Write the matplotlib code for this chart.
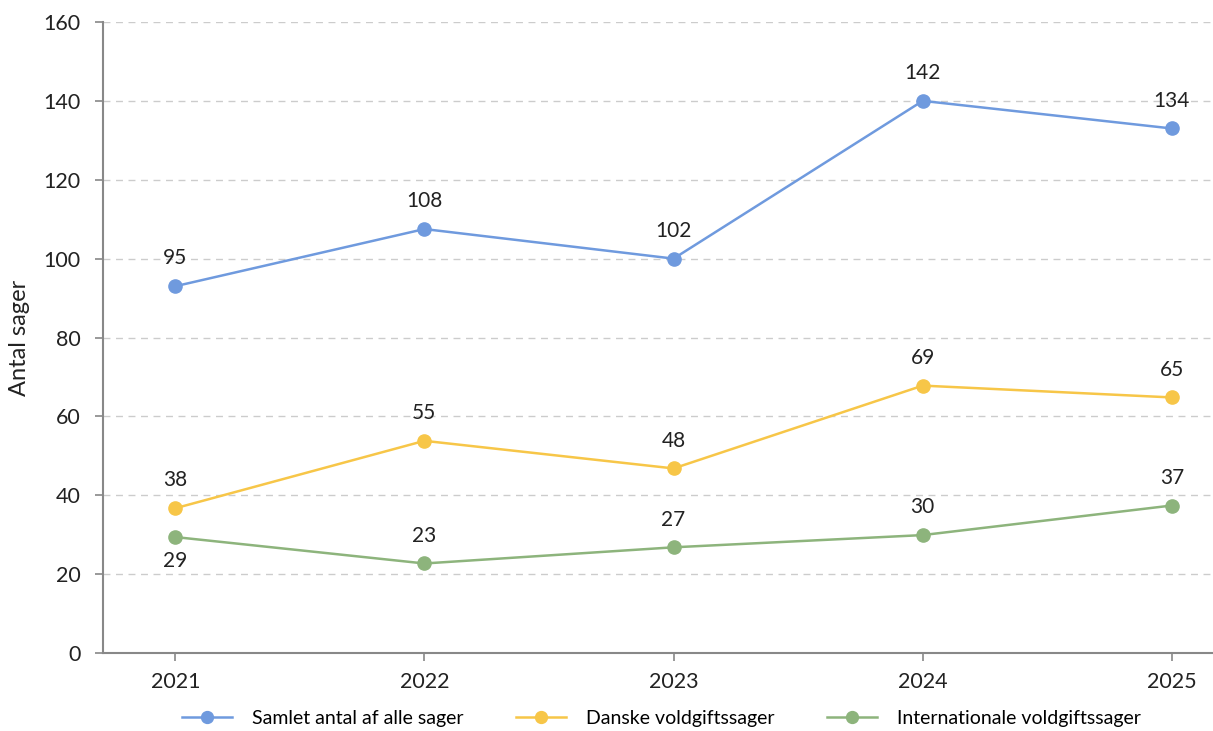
import matplotlib.pyplot as plt
import numpy as np

plt.rcParams['font.family'] = ['Lato', 'DejaVu Sans']

years = ['2021', '2022', '2023', '2024', '2025']
series_names = ['Samlet antal af alle sager', 'Danske voldgiftssager', 'Internationale voldgiftssager']

# plotted positions
samlet = [93, 107.5, 100, 140, 133]
danske = [36.7, 53.8, 46.8, 67.8, 64.8]
internationale = [29.4, 22.7, 26.8, 29.9, 37.4]

# printed data labels
samlet_labels = ['95', '108', '102', '142', '134']
danske_labels = ['38', '55', '48', '69', '65']
internationale_labels = ['29', '23', '27', '30', '37']

colors = ['#6f9ade', '#f7c648', '#8db47c']

fig = plt.figure(figsize=(12.13, 7.31), dpi=100)
ax = fig.add_axes([103 / 1213, 78 / 731, 1 - 103 / 1213, (653 - 22) / 731])

x = np.arange(len(years))
all_vals = [samlet, danske, internationale]
all_labels = [samlet_labels, danske_labels, internationale_labels]

for vals, labs, col, name in zip(all_vals, all_labels, colors, series_names):
    ax.plot(x, vals, color=col, lw=1.8, marker='o', markersize=9.5, label=name, zorder=3)
    for i, (v, t) in enumerate(zip(vals, labs)):
        below = (name == series_names[2] and i == 0)
        ax.annotate(t, (x[i], v), xytext=(0, -17 if below else 20), textcoords='offset points',
                    ha='center', va='center', fontsize=15, color='#222222')

ax.set_xlim(-0.29, 4.165)
ax.set_ylim(0, 160)
ax.set_yticks(range(0, 161, 20))
ax.set_xticks(x)
ax.set_xticklabels(years)
ax.tick_params(axis='both', labelsize=15.5, colors='#888888', labelcolor='#222222', length=6, width=1.2)
ax.tick_params(axis='y', pad=10)
ax.tick_params(axis='x', pad=8)
ax.grid(axis='y', ls=(0, (5, 4)), color='#cccccc', lw=1)
ax.set_axisbelow(True)
for s in ['top', 'right']:
    ax.spines[s].set_visible(False)
for s in ['left', 'bottom']:
    ax.spines[s].set_color('#888888')
    ax.spines[s].set_linewidth(1.5)

ax.set_ylabel('Antal sager', fontsize=17, color='#222222')
ax.yaxis.set_label_coords(-0.066, 0.5)

fig.legend(loc='center', bbox_to_anchor=(0.545, 0.017), ncol=3, frameon=False, fontsize=14,
           handlelength=2.6, handletextpad=1.0, columnspacing=2.7, markerscale=0.9)

fig.savefig('out.png', dpi=100, facecolor='white')
